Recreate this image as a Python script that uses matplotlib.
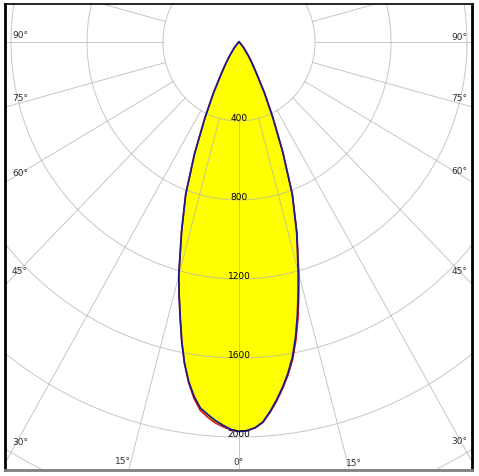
import matplotlib
matplotlib.use('Agg')
import matplotlib.pyplot as plt
import numpy as np

# polar intensity (cd), gamma angle in degrees
angles = [0, 1.25, 2.5, 3.75, 5, 6.25, 7.5, 8.75, 10, 11.25, 12.5, 13.75, 15,
          17.5, 20, 22.5, 25, 27.5, 30, 32.5, 35, 40, 45, 50, 60, 70, 80, 90]
c0 = [1972, 1968, 1955, 1928, 1878, 1822, 1762, 1696, 1620, 1525, 1420, 1310, 1205,
      1010, 820, 600, 420, 290, 185, 130, 90, 40, 15, 5, 0, 0, 0, 0]
c180 = [1972, 1962, 1942, 1920, 1893, 1865, 1810, 1740, 1652, 1545, 1430, 1325, 1225,
        1005, 820, 610, 425, 292, 190, 130, 90, 40, 15, 5, 0, 0, 0, 0]
c90 = [1972, 1968, 1955, 1930, 1882, 1828, 1768, 1704, 1630, 1538, 1435, 1325, 1218,
       1015, 820, 600, 420, 290, 185, 130, 90, 40, 15, 5, 0, 0, 0, 0]
c270 = [1972, 1964, 1950, 1932, 1906, 1876, 1820, 1745, 1652, 1545, 1430, 1325, 1225,
        1005, 820, 610, 425, 292, 190, 130, 90, 40, 15, 5, 0, 0, 0, 0]

rings = [400, 800, 1200, 1600, 2000]
side_labels = ['90°', '75°', '60°', '45°', '30°']
bottom_labels = ['15°', '0°', '15°']

W, H = 479, 477
fig = plt.figure(figsize=(W / 100, H / 100), dpi=100)
ax = fig.add_axes([5 / W, (H - 471) / H, 467 / W, 466 / H])
ax.set_xlim(-1231.6, 1226.3)
ax.set_ylim(-2167, 192.4)
ax.set_xticks([])
ax.set_yticks([])


def outline(right, left):
    a = np.radians(angles)
    r_right = np.array(right)
    r_left = np.array(left)
    xs = np.concatenate([-(r_left * np.sin(a))[::-1], r_right * np.sin(a)])
    ys = np.concatenate([-(r_left * np.cos(a))[::-1], -r_right * np.cos(a)])
    return xs, ys


x_b, y_b = outline(c0, c180)
x_r, y_r = outline(c90, c270)
ax.fill(x_r, y_r, color='#ffff00', lw=0, zorder=1)
ax.fill(x_b, y_b, color='#ffff00', lw=0, zorder=1)

# grid: rings and radial lines every 15 deg (starting at the first ring)
grid_col = '#b4b4b4'
t = np.linspace(0, 2 * np.pi, 721)
for r in range(400, 3600, 400):
    ax.plot(r * np.sin(t), r * np.cos(t), color=grid_col, lw=0.7, alpha=0.75, zorder=2)
for a in range(0, 360, 15):
    ar = np.radians(a)
    ax.plot([400 * np.sin(ar), 4000 * np.sin(ar)], [-400 * np.cos(ar), -4000 * np.cos(ar)],
            color=grid_col, lw=0.7, alpha=0.75, zorder=2)

ax.plot(x_r, y_r, color='#e01010', lw=1.1, zorder=3, solid_joinstyle='round')
ax.plot(x_b, y_b, color='#1c1c8c', lw=1.3, zorder=4, solid_joinstyle='round')

for r in rings:
    ax.annotate(str(r), xy=(0, -r), xytext=(0, 4), textcoords='offset pixels',
                ha='center', va='center', fontsize=6.5, color='#000000', zorder=5)


def px_text(x, y, s, ha):
    fig.text(x / W, 1 - y / H, s, ha=ha, va='center', fontsize=6.5, color='#303030')


left_y = [36, 99, 173, 272, 443]
right_y = [37, 99, 172, 272, 442]
for s, y in zip(side_labels, left_y):
    px_text(12, y, s, 'left')
for s, y in zip(side_labels, right_y):
    px_text(467, y, s, 'right')
for s, x, y in zip(bottom_labels, [123, 239, 354], [462, 463, 464]):
    px_text(x, y, s, 'center')

for side in ['left', 'right']:
    ax.spines[side].set_linewidth(2)
    ax.spines[side].set_color('#000000')
ax.spines['top'].set_linewidth(1.2)
ax.spines['top'].set_color('#000000')
ax.spines['bottom'].set_linewidth(2)
ax.spines['bottom'].set_color('#808080')

fig.savefig('out.png', dpi=100)
